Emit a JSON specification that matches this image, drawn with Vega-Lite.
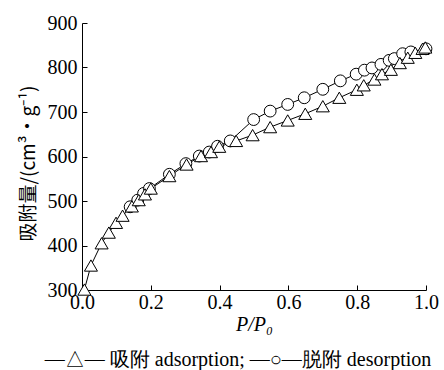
{
  "$schema": "https://vega.github.io/schema/vega-lite/v6.json",
  "autosize": "none",
  "width": 344,
  "height": 267,
  "padding": {"left": 82, "top": 23, "right": 18, "bottom": 80},
  "background": "white",
  "config": {
    "view": {"stroke": null},
    "axis": {"grid": false, "domainColor": "black", "tickColor": "black", "labelColor": "black", "titleColor": "black", "labelFont": "Liberation Serif", "labelFontSize": 20, "tickSize": -5, "domainWidth": 1, "tickWidth": 1}
  },
  "title": {"text": "—△— 吸附 adsorption; —○—脱附 desorption", "orient": "bottom", "font": "Liberation Serif", "fontSize": 20, "fontWeight": "normal", "color": "black", "offset": 16, "dx": -16},
  "data": {"values": [
    {"x": 0.14, "y": 487, "s": "desorption"},
    {"x": 0.162, "y": 502, "s": "desorption"},
    {"x": 0.179, "y": 517, "s": "desorption"},
    {"x": 0.196, "y": 528, "s": "desorption"},
    {"x": 0.254, "y": 560, "s": "desorption"},
    {"x": 0.302, "y": 584, "s": "desorption"},
    {"x": 0.341, "y": 601, "s": "desorption"},
    {"x": 0.37, "y": 610, "s": "desorption"},
    {"x": 0.394, "y": 623, "s": "desorption"},
    {"x": 0.431, "y": 635, "s": "desorption"},
    {"x": 0.499, "y": 683, "s": "desorption"},
    {"x": 0.547, "y": 702, "s": "desorption"},
    {"x": 0.598, "y": 717, "s": "desorption"},
    {"x": 0.646, "y": 732, "s": "desorption"},
    {"x": 0.7, "y": 751, "s": "desorption"},
    {"x": 0.751, "y": 770, "s": "desorption"},
    {"x": 0.797, "y": 785, "s": "desorption"},
    {"x": 0.821, "y": 794, "s": "desorption"},
    {"x": 0.843, "y": 799, "s": "desorption"},
    {"x": 0.869, "y": 807, "s": "desorption"},
    {"x": 0.893, "y": 816, "s": "desorption"},
    {"x": 0.908, "y": 820, "s": "desorption"},
    {"x": 0.932, "y": 831, "s": "desorption"},
    {"x": 0.956, "y": 835, "s": "desorption"},
    {"x": 1.0, "y": 842, "s": "desorption"},
    {"x": 0.007, "y": 301, "s": "adsorption"},
    {"x": 0.026, "y": 355, "s": "adsorption"},
    {"x": 0.057, "y": 405, "s": "adsorption"},
    {"x": 0.078, "y": 429, "s": "adsorption"},
    {"x": 0.099, "y": 451, "s": "adsorption"},
    {"x": 0.118, "y": 467, "s": "adsorption"},
    {"x": 0.145, "y": 488, "s": "adsorption"},
    {"x": 0.165, "y": 502, "s": "adsorption"},
    {"x": 0.183, "y": 515, "s": "adsorption"},
    {"x": 0.2, "y": 528, "s": "adsorption"},
    {"x": 0.254, "y": 556, "s": "adsorption"},
    {"x": 0.304, "y": 582, "s": "adsorption"},
    {"x": 0.346, "y": 601, "s": "adsorption"},
    {"x": 0.375, "y": 610, "s": "adsorption"},
    {"x": 0.399, "y": 622, "s": "adsorption"},
    {"x": 0.448, "y": 635, "s": "adsorption"},
    {"x": 0.496, "y": 648, "s": "adsorption"},
    {"x": 0.547, "y": 666, "s": "adsorption"},
    {"x": 0.598, "y": 681, "s": "adsorption"},
    {"x": 0.649, "y": 696, "s": "adsorption"},
    {"x": 0.7, "y": 713, "s": "adsorption"},
    {"x": 0.748, "y": 732, "s": "adsorption"},
    {"x": 0.799, "y": 750, "s": "adsorption"},
    {"x": 0.819, "y": 760, "s": "adsorption"},
    {"x": 0.85, "y": 773, "s": "adsorption"},
    {"x": 0.872, "y": 785, "s": "adsorption"},
    {"x": 0.898, "y": 795, "s": "adsorption"},
    {"x": 0.924, "y": 810, "s": "adsorption"},
    {"x": 0.947, "y": 822, "s": "adsorption"},
    {"x": 0.969, "y": 833, "s": "adsorption"},
    {"x": 0.99, "y": 842, "s": "adsorption"},
    {"x": 0.998, "y": 845, "s": "adsorption"}
  ]},
  "encoding": {
    "x": {"field": "x", "type": "quantitative", "scale": {"domain": [0, 1], "nice": false, "zero": false},
      "axis": {"values": [0, 0.2, 0.4, 0.6, 0.8, 1.0], "format": ".1f", "labelPadding": 7, "title": "P/P₀", "titleFont": "Liberation Serif", "titleFontStyle": "italic", "titleFontWeight": "normal", "titleFontSize": 20, "titlePadding": 2, "labelFlush": false}},
    "y": {"field": "y", "type": "quantitative", "scale": {"domain": [300, 900], "nice": false, "zero": false},
      "axis": {"values": [300, 400, 500, 600, 700, 800, 900], "labelPadding": 10, "title": "吸附量/(cm³·g⁻¹)", "titleFont": "Noto Sans CJK SC", "titleFontWeight": "normal", "titleFontSize": 19, "titlePadding": 9, "titleY": 140}}
  },
  "layer": [
    {"mark": {"type": "line", "color": "black", "strokeWidth": 1},
      "encoding": {"detail": {"field": "s"}, "order": {"field": "x", "type": "quantitative"}}},
    {"mark": {"type": "point", "filled": true, "fill": "white", "stroke": "black", "strokeWidth": 1, "opacity": 1},
      "encoding": {
        "shape": {"field": "s", "type": "nominal", "scale": {"domain": ["desorption", "adsorption"], "range": ["circle", "triangle-up"]}, "legend": null},
        "size": {"field": "s", "type": "nominal", "scale": {"domain": ["desorption", "adsorption"], "range": [140, 170]}, "legend": null}
      }}
  ]
}
